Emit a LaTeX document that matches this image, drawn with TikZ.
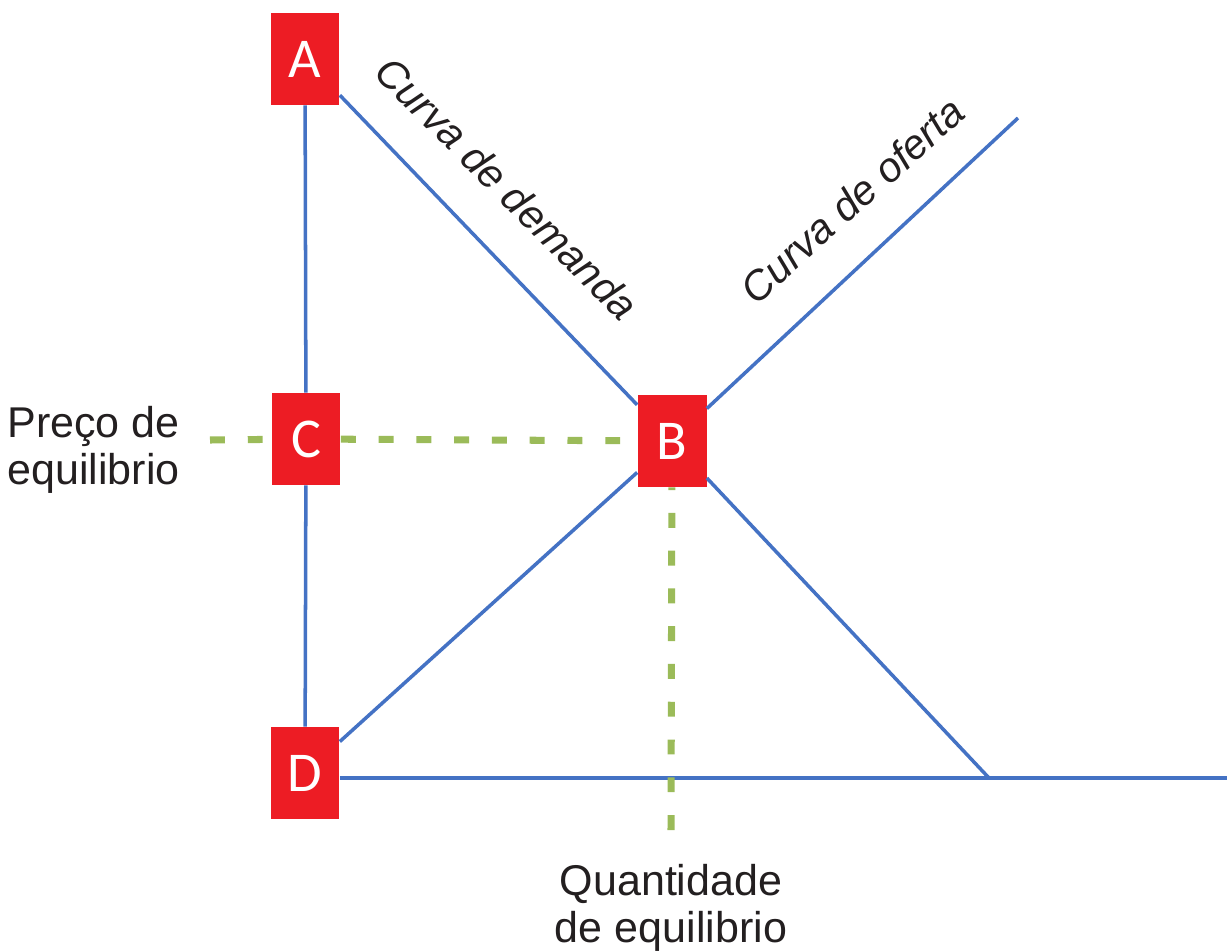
\documentclass[tikz,border=0pt]{standalone}
\usepackage{fontspec}
\setmainfont{Liberation Sans}
\newfontfamily\boxfont{Carlito}
\usepackage{tikz}
\usetikzlibrary{calc}
\definecolor{boxred}{HTML}{ED1C24}
\definecolor{curveblue}{HTML}{4472C4}
\definecolor{eqgreen}{HTML}{9BBB59}
\definecolor{labeltext}{HTML}{231F20}
\tikzstyle{point} = [rectangle, minimum width=1.38cm, minimum height=1.84cm, inner sep=0pt, fill=boxred, text=white, font=\boxfont\fontsize{32}{38}\selectfont]
\tikzstyle{curve} = [line width=2pt, curveblue]
\tikzstyle{eqline} = [line width=4pt, eqgreen, dash pattern=on 8.5pt off 13pt]
\tikzstyle{label} = [text=labeltext, font=\fontsize{24.5}{27}\selectfont, inner sep=0pt]
\tikzstyle{curvelabel} = [text=labeltext, font=\itshape\fontsize{23.5}{26}\selectfont, inner sep=0pt]

\begin{document}
\begin{tikzpicture}[x=0.02cm, y=-0.02cm]
    \useasboundingbox (0,0) rectangle (1227,950);

    % Marked points
    \node (A) [point] at (305,59) {A};
    \node (C) [point] at (306,439) {C};
    \node (B) [point] at (672,441) {B};
    \node (D) [point] at (305,773) {D};

    % Loose ends of the lines
    \coordinate (qaxis) at (1227,778);
    \coordinate (dend) at (989,778);
    \coordinate (send) at (1018,118);
    \coordinate (pstart) at (210,440);
    \coordinate (qstart) at (671,830);

    % Axes
    \draw [curve] (A) -- (C) -- (D);
    \draw [curve] (D.east |- qaxis) -- (qaxis);

    % Demand and supply
    \draw [curve] (A) -- (B) -- (dend);
    \draw [curve] (D) -- (B) -- (send);

    % Equilibrium guides
    \draw [eqline] (pstart) -- (C);
    \draw [eqline] (C) -- (B);
    \draw [eqline] (qstart) -- (B);

    % Labels
    \node (plabel) [label, anchor=west, align=left] at (7,450) {Preço de\\equilibrio};
    \node (qlabel) [label, align=center] at (671,908) {Quantidade\\de equilibrio};
    \node (dlabel) [curvelabel, rotate=-45] at (507,188) {Curva de demanda};
    \node (slabel) [curvelabel, rotate=42] at (852,200) {Curva de oferta};

\end{tikzpicture}
\end{document}
